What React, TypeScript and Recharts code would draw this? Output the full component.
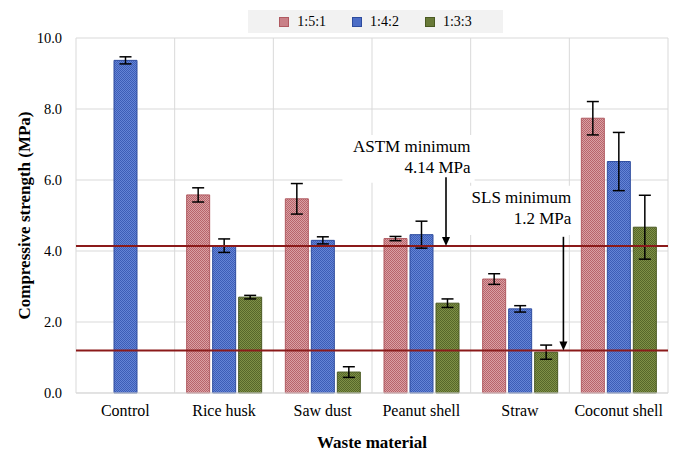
import {
  BarChart,
  Bar,
  XAxis,
  YAxis,
  CartesianGrid,
  ErrorBar,
  ReferenceLine,
  ReferenceArea,
} from 'recharts';

const materials = ['Control', 'Rice husk', 'Saw dust', 'Peanut shell', 'Straw', 'Coconut shell'];
const mix151 = [null, 5.58, 5.47, 4.35, 3.21, 7.74];
const err151 = [null, 0.2, 0.43, 0.06, 0.15, 0.47];
const mix142 = [9.37, 4.15, 4.3, 4.46, 2.37, 6.52];
const err142 = [0.1, 0.19, 0.1, 0.38, 0.09, 0.82];
const mix133 = [null, 2.7, 0.59, 2.53, 1.15, 4.67];
const err133 = [null, 0.05, 0.15, 0.12, 0.2, 0.9];
const yTicks = [0, 2, 4, 6, 8, 10];
const astmMin = 4.14;
const slsMin = 1.2;

// annotation positions, in category units (0 = left edge, 6 = right edge)
const astmArrowX = 3.75;
const slsArrowX = 4.94;

const data = materials.map((m, i) => ({
  name: m,
  pos: i + 0.5,
  r151: mix151[i],
  e151: err151[i],
  r142: mix142[i],
  e142: err142[i],
  r133: mix133[i],
  e133: err133[i],
}));

const FONT = '"Liberation Serif", "DejaVu Serif", serif';
const LINE_RED = '#8b1a1a';

const series = [
  { key: 'r151', err: 'e151', label: '1:5:1', fill: 'url(#pat151)', stroke: '#b05a61', swatch: '#c98087' },
  { key: 'r142', err: 'e142', label: '1:4:2', fill: 'url(#pat142)', stroke: '#2e4c9e', swatch: '#4c6dc6' },
  { key: 'r133', err: 'e133', label: '1:3:3', fill: 'url(#pat133)', stroke: '#4a5a22', swatch: '#687a38' },
];

// arrow drawn for the segment reference lines
const Arrow = (props: any) => {
  const { x1, y1, x2, y2 } = props;
  if (x1 == null) return null;
  return (
    <g>
      <line x1={x1} y1={y1} x2={x2} y2={y2 - 7} stroke="#000" strokeWidth={1.6} />
      <polygon points={`${x2 - 4},${y2 - 9} ${x2 + 4},${y2 - 9} ${x2},${y2}`} fill="#000" />
    </g>
  );
};

const noteLabel = (lines: string[]) => (props: any) => {
  const { viewBox } = props;
  if (!viewBox) return null;
  const right = viewBox.x + viewBox.width - 4;
  return (
    <g>
      {lines.map((t, i) => (
        <text
          key={i}
          x={right}
          y={viewBox.y + 17 + i * 21}
          textAnchor="end"
          fontFamily={FONT}
          fontSize={17}
          fill="#000"
        >
          {t}
        </text>
      ))}
    </g>
  );
};

const LegendBox = () => (
  <div
    style={{
      position: 'absolute',
      left: 248,
      top: 10,
      width: 255,
      height: 23,
      background: '#f2f2f2',
      display: 'flex',
      alignItems: 'center',
      justifyContent: 'center',
      gap: 26,
      fontFamily: FONT,
      fontSize: 14,
    }}
  >
    {series.map((s) => (
      <div key={s.key} style={{ display: 'flex', alignItems: 'center', gap: 8 }}>
        <span
          style={{
            width: 8,
            height: 8,
            background: s.swatch,
            border: `1px solid ${s.stroke}`,
            display: 'inline-block',
          }}
        />
        <span>{s.label}</span>
      </div>
    ))}
  </div>
);

const bandLines = ({ offset }: any) =>
  materials.map((_, i) => offset.left + (i * offset.width) / materials.length).concat(offset.left + offset.width);

export default function App() {
  return (
    <div style={{ position: 'absolute', left: 0, top: 0, width: 678, height: 453, background: '#fff' }}>
      <BarChart
        width={678}
        height={453}
        data={data}
        margin={{ top: 38, right: 10, left: 0, bottom: 0 }}
        barCategoryGap={12}
        barGap={3}
      >
        <defs>
          <pattern id="pat151" width="2" height="2" patternUnits="userSpaceOnUse">
            <rect width="2" height="2" fill="#d9a0a4" />
            <rect width="1" height="1" fill="#b8646b" />
            <rect x="1" y="1" width="1" height="1" fill="#b8646b" />
          </pattern>
          <pattern id="pat142" width="2" height="2" patternUnits="userSpaceOnUse">
            <rect width="2" height="2" fill="#6484d6" />
            <rect width="1" height="1" fill="#3d5db6" />
            <rect x="1" y="1" width="1" height="1" fill="#3d5db6" />
          </pattern>
          <pattern id="pat133" width="2" height="2" patternUnits="userSpaceOnUse">
            <rect width="2" height="2" fill="#7f9046" />
            <rect width="1" height="1" fill="#56672a" />
            <rect x="1" y="1" width="1" height="1" fill="#56672a" />
          </pattern>
        </defs>
        <CartesianGrid stroke="#d9d9d9" verticalCoordinatesGenerator={bandLines} />
        <XAxis
          dataKey="name"
          tickLine={false}
          axisLine={{ stroke: '#d9d9d9' }}
          tickSize={0}
          tickMargin={12}
          height={60}
          tick={{ fontFamily: FONT, fontSize: 16, fill: '#000' }}
          label={{
            value: 'Waste material',
            position: 'insideBottom',
            offset: 5,
            style: { fontFamily: FONT, fontSize: 17, fontWeight: 'bold', fill: '#000' },
          }}
        />
        <XAxis
          xAxisId="num"
          dataKey="pos"
          type="number"
          domain={[0, 6]}
          allowDataOverflow
          hide
        />
        <YAxis
          domain={[0, 10]}
          ticks={yTicks}
          tickFormatter={(v: number) => v.toFixed(1)}
          tickLine={false}
          axisLine={false}
          tickSize={0}
          tickMargin={14}
          width={76}
          tick={{ fontFamily: FONT, fontSize: 14.5, fill: '#000' }}
          label={{
            value: 'Compressive strength (MPa)',
            angle: -90,
            position: 'insideLeft',
            offset: 24,
            style: { textAnchor: 'middle', fontFamily: FONT, fontSize: 17, fontWeight: 'bold', fill: '#000' },
          }}
        />
        <ReferenceArea
          xAxisId="num"
          x1={2.7}
          x2={4.04}
          y1={5.92}
          y2={7.27}
          fill="#fff"
          fillOpacity={1}
          stroke="none"
          label={noteLabel(['ASTM minimum', '4.14 MPa'])}
        />
        <ReferenceArea
          xAxisId="num"
          x1={3.87}
          x2={5.06}
          y1={4.45}
          y2={5.84}
          fill="#fff"
          fillOpacity={1}
          stroke="none"
          label={noteLabel(['SLS minimum', '1.2 MPa'])}
        />
        {series.map((s) => (
          <Bar
            key={s.key}
            dataKey={s.key}
            fill={s.fill}
            stroke={s.stroke}
            strokeWidth={1}
            isAnimationActive={false}
          >
            <ErrorBar dataKey={s.err} width={6} stroke="#000" strokeWidth={1.5} direction="y" />
          </Bar>
        ))}
        <ReferenceLine y={astmMin} stroke={LINE_RED} strokeWidth={2} />
        <ReferenceLine y={slsMin} stroke={LINE_RED} strokeWidth={2} />
        <ReferenceLine
          xAxisId="num"
          segment={[
            { x: astmArrowX, y: 6.08 },
            { x: astmArrowX, y: astmMin },
          ]}
          shape={Arrow}
        />
        <ReferenceLine
          xAxisId="num"
          segment={[
            { x: slsArrowX, y: 4.4 },
            { x: slsArrowX, y: slsMin },
          ]}
          shape={Arrow}
        />
      </BarChart>
      <LegendBox />
    </div>
  );
}
